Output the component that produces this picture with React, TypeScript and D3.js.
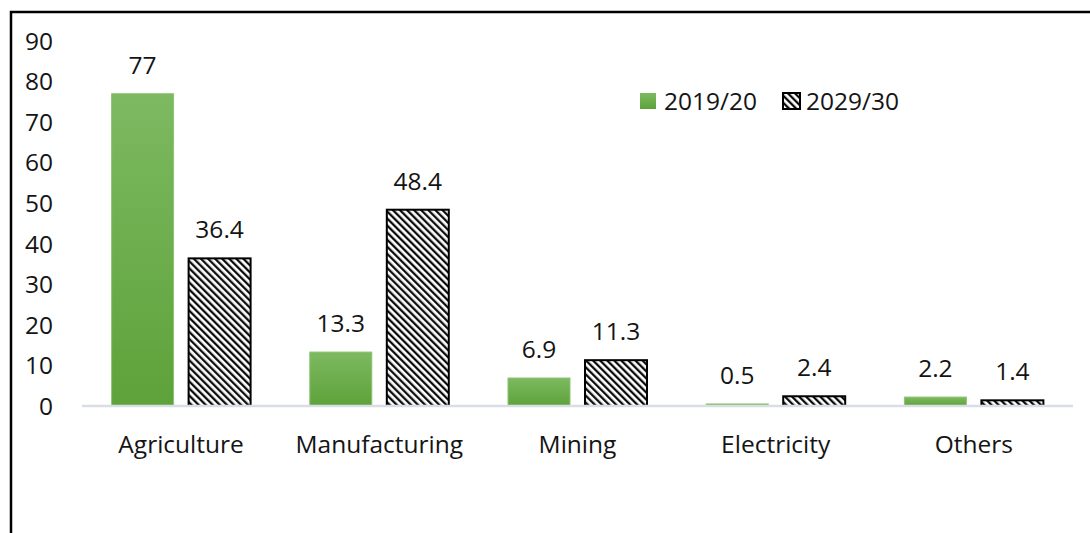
import React from "react";
import * as d3 from "d3";

const categories = ["Agriculture", "Manufacturing", "Mining", "Electricity", "Others"];
const series = ["2019/20", "2029/30"];
const values2019 = [77, 13.3, 6.9, 0.5, 2.2];
const values2029 = [36.4, 48.4, 11.3, 2.4, 1.4];
const yTicks = [0, 10, 20, 30, 40, 50, 60, 70, 80, 90];

const W = 1090;
const H = 533;
const FONT = "'Open Sans', 'DejaVu Sans', sans-serif";
const TEXT = "#141414";

export default function App() {
  const y = d3.scaleLinear().domain([0, 90]).range([406, 41]);
  const x0 = d3.scaleBand<string>().domain(categories).range([82, 1073]).paddingInner(0).paddingOuter(0);
  const bw0 = x0.bandwidth();
  const groupW = 139;
  const x1 = d3
    .scaleBand<string>()
    .domain(series)
    .range([(bw0 - groupW) / 2, (bw0 + groupW) / 2])
    .paddingInner(0.195)
    .paddingOuter(0);
  const bw = x1.bandwidth();
  const data = [values2019, values2029];

  return (
    <div style={{ position: "absolute", left: 0, top: 0, width: W, height: H, overflow: "hidden", background: "#fff" }}>
      <svg width={W} height={H} style={{ display: "block" }}>
        <defs>
          <linearGradient id="greenGrad" x1="0" y1="0" x2="0" y2="1">
            <stop offset="0%" stopColor="#7db961" />
            <stop offset="100%" stopColor="#5ea23a" />
          </linearGradient>
          <pattern id="hatch" width="5" height="5" patternUnits="userSpaceOnUse" patternTransform="rotate(-45)">
            <rect width="5" height="5" fill="#fff" />
            <line x1="1.2" y1="0" x2="1.2" y2="5" stroke="#000" strokeWidth="2.2" />
          </pattern>
        </defs>
        <rect x={0} y={0} width={W} height={H} fill="#fff" />
        {/* frame */}
        <rect x={11} y={12} width={W + 20} height={H + 20} fill="none" stroke="#000" strokeWidth={2.5} />

        {/* y tick labels */}
        {yTicks.map((t) => (
          <text
            key={t}
            x={53}
            y={y(t)}
            dy="0.36em"
            textAnchor="end"
            fontFamily={FONT}
            fontSize={24.5}
            fill={TEXT}
          >
            {t}
          </text>
        ))}

        {/* bars */}
        {categories.map((c, i) => (
          <g key={c} transform={`translate(${x0(c)},0)`}>
            {series.map((s, j) => {
              const v = data[j][i];
              const bx = x1(s) as number;
              const by = y(v);
              const bh = y(0) - y(v);
              return (
                <g key={s}>
                  {j === 0 ? (
                    <rect x={bx} y={by} width={bw} height={bh} fill="url(#greenGrad)" stroke="#8cc46e" strokeWidth={1} />
                  ) : (
                    <rect x={bx} y={by} width={bw} height={bh} fill="url(#hatch)" stroke="#000" strokeWidth={2} />
                  )}
                  <text
                    x={bx + bw / 2}
                    y={by - 20}
                    textAnchor="middle"
                    fontFamily={FONT}
                    fontSize={24.5}
                    fill={TEXT}
                  >
                    {v}
                  </text>
                </g>
              );
            })}
            <text
              x={bw0 / 2}
              y={453}
              textAnchor="middle"
              fontFamily={FONT}
              fontSize={24.5}
              fill={TEXT}
            >
              {c}
            </text>
          </g>
        ))}

        {/* baseline */}
        <line x1={82} x2={1073} y1={y(0)} y2={y(0)} stroke="#d9dde6" strokeWidth={2.5} />

        {/* legend */}
        <g>
          <rect x={640} y={93} width={16} height={16} fill="url(#greenGrad)" />
          <text x={664} y={101} dy="0.36em" fontFamily={FONT} fontSize={24.5} fill={TEXT}>
            {series[0]}
          </text>
          <rect x={783} y={93} width={17} height={16} fill="url(#hatch)" stroke="#000" strokeWidth={2} />
          <text x={806} y={101} dy="0.36em" fontFamily={FONT} fontSize={24.5} fill={TEXT}>
            {series[1]}
          </text>
        </g>
      </svg>
    </div>
  );
}
